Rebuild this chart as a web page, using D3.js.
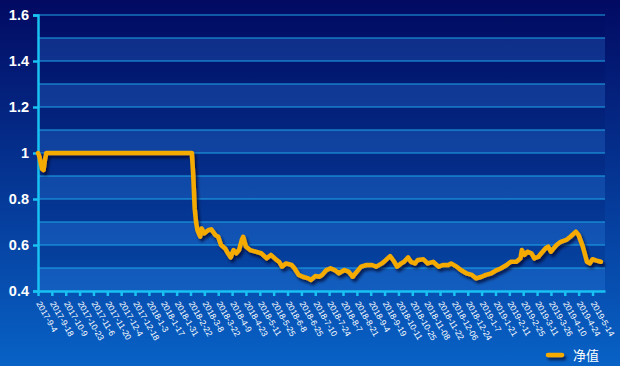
<!DOCTYPE html>
<html><head><meta charset="utf-8">
<script src="https://cdn.jsdelivr.net/npm/d3@7"></script>
<style>html,body{margin:0;padding:0;background:#02106a;}svg{display:block;}</style>
</head><body>
<script>
// ---- data ----
const tickLabels = ["2017-9-4","2017-9-18","2017-10-9","2017-10-23","2017-11-6","2017-11-20","2017-12-4","2017-12-18","2018-1-3","2018-1-17","2018-1-31","2018-2-22","2018-3-8","2018-3-22","2018-4-9","2018-4-23","2018-5-11","2018-5-25","2018-6-8","2018-6-25","2018-7-10","2018-7-24","2018-8-7","2018-8-21","2018-9-4","2018-9-19","2018-10-11","2018-10-25","2018-11-08","2018-11-22","2018-12-06","2018-12-24","2019-1-7","2019-1-21","2019-2-11","2019-2-25","2019-3-11","2019-3-26","2019-4-10","2019-4-24","2019-5-14"];
const labelStep = 10; // trading days between labels
const totalDays = 409; // axis length in trading days
// trading-day index of each sampled point
const dayIndex = [0,1,2,3,4,5,6,111,112,113,114,115,116,117,118,120,123,125,128,130,132,135,137,139,141,143,145,147,148,150,153,157,161,165,168,172,174,176,179,183,185,188,191,195,197,200,203,205,208,211,214,217,221,224,227,230,233,237,241,244,248,251,254,257,259,262,264,267,269,272,274,278,281,285,289,292,296,298,302,305,309,313,316,320,323,327,331,334,338,341,345,348,349,351,353,356,358,361,363,366,368,370,374,377,381,384,388,390,393,396,398,400,403,406];
// net value (净值)
const nav = [1.0,0.985,0.955,0.93,0.926,0.97,1.0,1.0,0.90,0.76,0.70,0.665,0.65,0.636,0.672,0.651,0.665,0.668,0.643,0.636,0.60,0.585,0.564,0.546,0.578,0.564,0.578,0.622,0.636,0.593,0.578,0.571,0.564,0.542,0.557,0.535,0.527,0.506,0.52,0.513,0.499,0.47,0.462,0.455,0.448,0.465,0.462,0.47,0.491,0.499,0.491,0.477,0.491,0.484,0.462,0.484,0.506,0.513,0.513,0.506,0.52,0.535,0.552,0.527,0.506,0.52,0.527,0.546,0.527,0.52,0.535,0.538,0.52,0.527,0.506,0.513,0.513,0.52,0.506,0.491,0.477,0.47,0.455,0.462,0.47,0.477,0.491,0.499,0.513,0.527,0.527,0.542,0.578,0.557,0.571,0.564,0.542,0.549,0.564,0.585,0.593,0.571,0.60,0.614,0.622,0.636,0.658,0.643,0.593,0.527,0.52,0.538,0.532,0.527];
const yTicks = [0.4,0.6,0.8,1.0,1.2,1.4,1.6];
const seriesName = "净值";

// ---- layout ----
const W = 620, H = 366;
const plot = {left: 38, right: 605, top: 15, bottom: 291};

const svg = d3.select("body").append("svg").attr("width", W).attr("height", H);
const defs = svg.append("defs");
const bg = defs.append("linearGradient").attr("id","bg").attr("x1",0).attr("y1",0).attr("x2",0).attr("y2",1);
bg.append("stop").attr("offset","0%").attr("stop-color","#020a62");
bg.append("stop").attr("offset","100%").attr("stop-color","#0862c6");
const f = defs.append("filter").attr("id","shadow").attr("filterUnits","userSpaceOnUse")
  .attr("x",0).attr("y",0).attr("width",W).attr("height",H);
f.append("feDropShadow").attr("dx",2).attr("dy",3).attr("stdDeviation",1.6).attr("flood-color","#000020").attr("flood-opacity",0.7);

svg.append("rect").attr("width",W).attr("height",H).attr("fill","url(#bg)");

const x = d3.scaleLinear().domain([0,totalDays]).range([plot.left, plot.right]);
const y = d3.scaleLinear().domain([0.4,1.6]).range([plot.bottom, plot.top]);

// bands
const bandEdges = d3.range(0.4, 1.6001, 0.1).map(v => +v.toFixed(1));
const bands = svg.append("g");
for (let k = 0; k < bandEdges.length - 1; k++) {
  const lo = bandEdges[k], hi = bandEdges[k+1];
  bands.append("rect")
    .attr("x", plot.left).attr("width", plot.right - plot.left)
    .attr("y", y(hi)).attr("height", y(lo) - y(hi))
    .attr("fill", k % 2 === 0 ? "#3a90f0" : "#000850")
    .attr("fill-opacity", k % 2 === 0 ? 0.22 : 0.12);
}
// grid lines
svg.append("g").selectAll("line").data(bandEdges.filter(v => v > 0.4)).join("line")
  .attr("x1", plot.left).attr("x2", plot.right)
  .attr("y1", d => y(d)).attr("y2", d => y(d))
  .attr("stroke", "#1fa6ea").attr("stroke-width", 1.2);

// y axis
const yAxis = svg.append("g").attr("transform", `translate(${plot.left},0)`)
  .call(d3.axisLeft(y).tickValues(yTicks).tickSize(5).tickPadding(4).tickFormat(d => d3.format("")(+d.toFixed(1))));
yAxis.select(".domain").attr("stroke","#19c2f2").attr("stroke-width",2.5);
yAxis.selectAll(".tick line").attr("stroke","#19c2f2").attr("stroke-width",2.5);
yAxis.selectAll(".tick text").attr("fill","#ffffff").attr("font-family","Arial, 'Liberation Sans', sans-serif")
  .attr("font-size",14.5).attr("font-weight","bold");

// x axis
const xTickVals = tickLabels.map((_, i) => i * labelStep);
const xAxis = svg.append("g").attr("transform", `translate(0,${plot.bottom})`)
  .call(d3.axisBottom(x).tickValues(xTickVals).tickSize(5).tickSizeOuter(0).tickFormat((d, i) => tickLabels[i]));
xAxis.select(".domain").attr("stroke","#19c2f2").attr("stroke-width",2.5);
xAxis.selectAll(".tick line").attr("stroke","#19c2f2").attr("stroke-width",2.5);
xAxis.selectAll(".tick text")
  .attr("fill","#ffffff").attr("font-family","Arial, 'Liberation Sans', sans-serif")
  .attr("font-size",8.5)
  .attr("text-anchor","start")
  .attr("y",0).attr("dy","0.35em")
  .attr("transform","translate(0,11) rotate(60)");

// line
const line = d3.line().x((d, i) => x(dayIndex[i])).y(d => y(d)).curve(d3.curveLinear);
svg.append("path").datum(nav)
  .attr("d", line)
  .attr("fill","none").attr("stroke","#f5aa00").attr("stroke-width",4.5)
  .attr("stroke-linejoin","round").attr("stroke-linecap","round")
  .attr("filter","url(#shadow)");

// legend
const lg = svg.append("g");
lg.append("line").attr("x1",548).attr("x2",562).attr("y1",355).attr("y2",355)
  .attr("stroke","#f5aa00").attr("stroke-width",4.5).attr("stroke-linecap","round").attr("filter","url(#shadow)");
lg.append("text").attr("x",573).attr("y",360).text(seriesName)
  .attr("fill","#ffffff").attr("font-size",13)
  .attr("font-family","'Noto Sans CJK SC', sans-serif");
</script>
</body></html>
